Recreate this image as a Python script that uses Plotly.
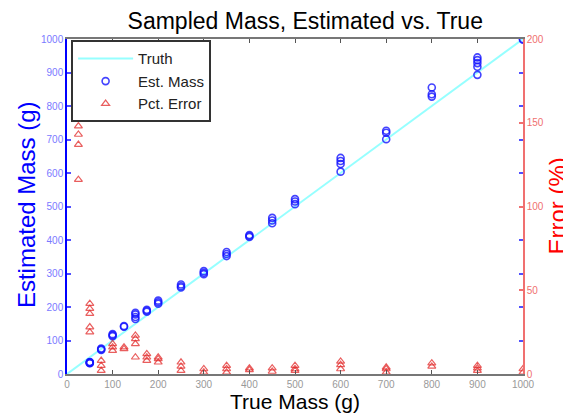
import plotly.graph_objects as go

# True mass values (g) for each sample group, with estimated masses (g)
est_true = [50, 75, 100, 125, 150, 175, 200, 250, 300, 350, 400, 450, 500, 600, 700, 800, 900, 1000]
est_samples = [
    [32, 34, 36, 35, 33],
    [72, 74, 76],
    [113, 116, 119],
    [141, 143],
    [164, 170, 178, 183],
    [186, 189, 192],
    [210, 214, 219],
    [258, 262, 267],
    [298, 302, 307],
    [352, 358, 364],
    [409, 412, 415],
    [450, 458, 466],
    [507, 515, 522],
    [604, 627, 636, 645],
    [701, 720, 726],
    [828, 835, 855],
    [893, 917, 928, 937, 945],
    [998, 1000],
]

# Percent error samples (%)
err_true = [25, 50, 75, 100, 125, 150, 175, 200, 250, 300, 350, 400, 450, 500, 600, 700, 800, 900, 1000]
err_samples = [
    [148, 143, 137, 116],
    [42, 39, 36, 28, 25],
    [8, 5, 2],
    [18, 16, 14],
    [16, 15],
    [23, 21, 18, 10],
    [12, 10, 8],
    [10, 9, 7],
    [7, 4.5, 2],
    [3, 1],
    [5, 3, 1],
    [3.5, 2.5],
    [3.5, 1.5],
    [5, 3, 2],
    [7.5, 5.5, 3],
    [4, 3, 1],
    [6.5, 4.5],
    [5, 3.5, 2],
    [3, 1],
]

truth_x = [0, 1000]
truth_y = [0, 1000]

x_ticks = [0, 100, 200, 300, 400, 500, 600, 700, 800, 900, 1000]
y_ticks = [0, 100, 200, 300, 400, 500, 600, 700, 800, 900, 1000]
y2_ticks = [0, 50, 100, 150, 200]

ex, ey = [], []
for t, s in zip(est_true, est_samples):
    ex += [t] * len(s)
    ey += s
rx, ry = [], []
for t, s in zip(err_true, err_samples):
    rx += [t] * len(s)
    ry += s

fig = go.Figure()
fig.add_trace(go.Scatter(x=truth_x, y=truth_y, mode="lines", name="Truth",
                         line=dict(color="rgb(150,255,255)", width=2)))
fig.add_trace(go.Scatter(x=ex, y=ey, mode="markers", name="Est. Mass",
                         marker=dict(symbol="circle-open", size=7, color="rgba(20,20,255,0.8)",
                                     line=dict(width=1.6))))
fig.add_trace(go.Scatter(x=rx, y=ry, mode="markers", name="Pct. Error", yaxis="y2",
                         marker=dict(symbol="triangle-up-open", size=7, color="rgba(225,40,40,0.75)",
                                     line=dict(width=1.2))))

font = "Liberation Sans, Arial, sans-serif"
fig.update_layout(
    width=563, height=405,
    margin=dict(l=59, r=48, t=31, b=39),
    paper_bgcolor="white", plot_bgcolor="white",
    font=dict(family=font),
    showlegend=True,
    title=dict(text="Sampled Mass, Estimated vs. True", x=0.528, xanchor="center",
               y=0.967, yanchor="middle", font=dict(size=23, color="black")),
    xaxis=dict(range=[0, 1000], tickvals=x_ticks, showgrid=False, zeroline=False,
               showline=True, linecolor="#777", linewidth=1.5, mirror="ticks",
               ticks="inside", ticklen=4, tickcolor="#555", tickwidth=1,
               tickfont=dict(size=10, color="#999"), automargin=False),
    yaxis=dict(range=[0, 1000], tickvals=y_ticks, showgrid=False, zeroline=False,
               showline=True, linecolor="blue", linewidth=1.5, mirror="ticks",
               ticks="inside", ticklen=4, tickcolor="#5050ff", tickwidth=1.5,
               tickfont=dict(size=10, color="#7a7aff"), automargin=False),
    yaxis2=dict(range=[0, 200], tickvals=y2_ticks, overlaying="y", side="right",
                showgrid=False, zeroline=False, showline=True, linecolor="#f07070", linewidth=1.5,
                ticks="inside", ticklen=4, tickcolor="#f07070", tickwidth=1.5,
                tickfont=dict(size=10, color="#f07070"), automargin=False),
    legend=dict(x=0.009, y=0.996, xanchor="left", yanchor="top",
                bgcolor="white", bordercolor="#333", borderwidth=2,
                font=dict(size=15, color="#222"), itemwidth=55, entrywidth=100,
                tracegroupgap=0),
    annotations=[
        dict(text="True Mass (g)", xref="paper", yref="paper", x=0.5, y=-0.083,
             xanchor="center", yanchor="middle", showarrow=False,
             font=dict(size=21, color="black")),
        dict(text="Estimated Mass (g)", xref="paper", yref="paper", x=-0.09, y=0.507,
             xanchor="center", yanchor="middle", showarrow=False, textangle=-90,
             font=dict(size=24, color="blue")),
        dict(text="Error (%)", xref="paper", yref="paper", x=1.0746, y=0.5,
             xanchor="center", yanchor="middle", showarrow=False, textangle=-90,
             font=dict(size=24, color="red")),
    ],
)

fig.write_html("out.html")
